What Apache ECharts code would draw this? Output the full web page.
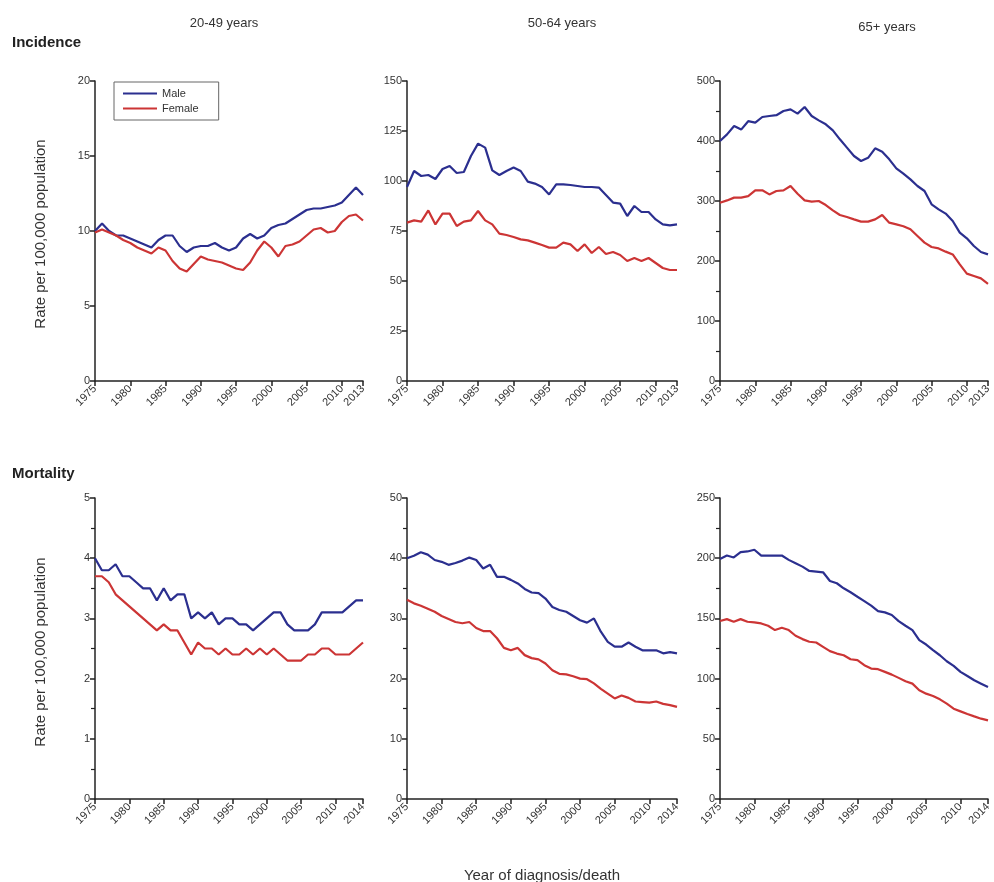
<!DOCTYPE html>
<html>
<head>
<meta charset="utf-8">
<script src="https://cdn.jsdelivr.net/npm/echarts@6/dist/echarts.min.js"></script>
<style>
html,body{margin:0;padding:0;background:#fff;}
#chart{width:994px;height:882px;}
</style>
</head>
<body>
<div id="chart"></div>
<script>
// ---------- data ----------
const yearsInc = [1975,1976,1977,1978,1979,1980,1981,1982,1983,1984,1985,1986,1987,1988,1989,1990,1991,1992,1993,1994,1995,1996,1997,1998,1999,2000,2001,2002,2003,2004,2005,2006,2007,2008,2009,2010,2011,2012,2013];
const yearsMort = [1975,1976,1977,1978,1979,1980,1981,1982,1983,1984,1985,1986,1987,1988,1989,1990,1991,1992,1993,1994,1995,1996,1997,1998,1999,2000,2001,2002,2003,2004,2005,2006,2007,2008,2009,2010,2011,2012,2013,2014];

const xTicksInc = [1975,1980,1985,1990,1995,2000,2005,2010,2013];
const xTicksMort = [1975,1980,1985,1990,1995,2000,2005,2010,2014];

// Incidence 20-49
const inc2049Male = [10.0,10.5,10.0,9.7,9.7,9.5,9.3,9.1,8.9,9.4,9.7,9.7,9.0,8.6,8.9,9.0,9.0,9.2,8.9,8.7,8.9,9.5,9.8,9.5,9.7,10.2,10.4,10.5,10.8,11.1,11.4,11.5,11.5,11.6,11.7,11.9,12.4,12.9,12.4];
const inc2049Female = [9.9,10.1,9.9,9.7,9.4,9.2,8.9,8.7,8.5,8.9,8.7,8.0,7.5,7.3,7.8,8.3,8.1,8.0,7.9,7.7,7.5,7.4,7.9,8.7,9.3,8.9,8.3,9.0,9.1,9.3,9.7,10.1,10.2,9.9,10.0,10.6,11.0,11.1,10.7];
// Incidence 50-64
const inc5064Male = [97,105,102.5,103,101,106,107.5,104,104.5,112.5,118.7,116.7,105.3,103,105,106.7,105,99.7,98.7,97,93.3,98.3,98.3,98,97.5,97,97,96.7,93,89.2,88.7,82.5,87.5,84.5,84.5,80.8,78.3,77.8,78.3];
const inc5064Female = [79.2,80.3,79.7,85.3,78.3,83.7,83.7,77.5,79.7,80.3,85,80.3,78.3,73.7,73,72,70.8,70.3,69.2,68,66.7,66.7,69.2,68.3,65,68.3,64,67,63.5,64.5,63,60,61.5,60,61.5,59,56.5,55.5,55.5];
// Incidence 65+
const inc65Male = [400,411,425,419,433,430.5,440,441.7,443,450,452.8,445.6,456.7,441.7,434.4,427.8,417.8,402.8,388.9,375,366.7,372,387.8,382.2,369.4,354.4,345.6,336,325,316.7,294.4,286,279,266.7,247.2,237.8,225,215,211];
const inc65Female = [297,301,305.6,305.6,308,317.8,317.8,311,316.7,317.8,325,312,301,298.9,300,293.3,284.4,276.7,273.3,269.4,265.6,265.6,269.4,276.7,263.9,261,258,252.8,241.7,230.6,223.3,221,215.6,211,194.4,178.9,175,171,162];
// Mortality 20-49
const mort2049Male = [4.0,3.8,3.8,3.9,3.7,3.7,3.6,3.5,3.5,3.3,3.5,3.3,3.4,3.4,3.0,3.1,3.0,3.1,2.9,3.0,3.0,2.9,2.9,2.8,2.9,3.0,3.1,3.1,2.9,2.8,2.8,2.8,2.9,3.1,3.1,3.1,3.1,3.2,3.3,3.3];
const mort2049Female = [3.7,3.7,3.6,3.4,3.3,3.2,3.1,3.0,2.9,2.8,2.9,2.8,2.8,2.6,2.4,2.6,2.5,2.5,2.4,2.5,2.4,2.4,2.5,2.4,2.5,2.4,2.5,2.4,2.3,2.3,2.3,2.4,2.4,2.5,2.5,2.4,2.4,2.4,2.5,2.6];
// Mortality 50-64
const mort5064Male = [40,40.4,41,40.6,39.7,39.4,38.9,39.2,39.6,40.1,39.7,38.3,38.9,36.9,36.9,36.4,35.8,34.9,34.3,34.2,33.3,31.9,31.4,31.1,30.4,29.7,29.3,30,27.8,26.1,25.3,25.3,26,25.3,24.7,24.7,24.7,24.2,24.4,24.2];
const mort5064Female = [33.1,32.5,32.1,31.6,31.1,30.4,29.9,29.4,29.2,29.4,28.4,27.9,27.9,26.7,25.1,24.7,25.1,23.9,23.4,23.2,22.5,21.4,20.8,20.7,20.4,20,19.9,19.2,18.3,17.5,16.7,17.2,16.8,16.2,16.1,16,16.2,15.8,15.6,15.3];
// Mortality 65+
const mort65Male = [199.4,202.2,200.6,205,205.6,207,202.2,202.2,202.2,202.2,198.6,195.8,193,189.4,188.9,188.3,181.1,179.2,175,171.7,168,164.4,160.6,156.1,155,152.8,147.8,143.9,140.3,132,128.3,123.6,119.4,114.4,110.6,105.6,102.2,98.6,95.8,93];
const mort65Female = [147.8,149.4,147.2,149.4,147.2,146.7,145.8,143.9,140.3,142.2,140.3,135.6,132.8,130.6,130,126.4,122.8,120.8,119.4,116.1,115.3,111.1,108.3,107.8,105.6,103.3,100.6,97.8,95.8,90.3,87.5,85.6,82.8,79.2,75,72.8,70.6,68.6,66.7,65.3];

const panelTitles = ['20-49 years','50-64 years','65+ years'];
const rowTitles = ['Incidence','Mortality'];
const yAxisTitle = 'Rate per 100,000 population';
const xAxisTitle = 'Year of diagnosis/death';

// ---------- chart ----------
const BLUE = '#2b2f8f';
const RED = '#cc3535';
const FONT = '"Liberation Sans", Arial, sans-serif';

const grids = [
  {left:95, top:81, width:268, height:300},
  {left:407, top:81, width:270, height:300},
  {left:720, top:81, width:268, height:300},
  {left:95, top:498, width:268, height:301},
  {left:407, top:498, width:270, height:301},
  {left:720, top:498, width:268, height:301}
];

function xAx(i, maxYear, ticks){
  return {
    type:'value', gridIndex:i, min:1975, max:maxYear,
    axisLine:{show:true, onZero:false, lineStyle:{color:'#222', width:1.5}},
    axisTick:{show:true, customValues:ticks, length:5, lineStyle:{color:'#222', width:1.5}},
    axisLabel:{customValues:ticks, rotate:45, fontSize:11, color:'#333', margin:6, fontFamily:FONT,
      formatter:function(v){return String(v);}},
    splitLine:{show:false}
  };
}
function yAx(i, max, interval, minor){
  return {
    type:'value', gridIndex:i, min:0, max:max, interval:interval,
    axisLine:{show:true, lineStyle:{color:'#222', width:1.5}},
    axisTick:{show:true, length:5, lineStyle:{color:'#222', width:1.5}},
    minorTick:{show:minor, splitNumber:2, length:4, lineStyle:{color:'#222', width:1.2}},
    axisLabel:{fontSize:11, color:'#333', margin:5, fontFamily:FONT},
    splitLine:{show:false}, minorSplitLine:{show:false}
  };
}
function pairs(xs, ys){ return xs.map(function(x,i){return [x, ys[i]];}); }
function ser(name, color, idx, xs, ys){
  return {name:name, type:'line', xAxisIndex:idx, yAxisIndex:idx, data:pairs(xs,ys),
    showSymbol:false, symbol:'none', lineStyle:{color:color, width:2.2}, itemStyle:{color:color},
    emphasis:{disabled:true}, animation:false};
}

const option = {
  animation:false,
  grid: grids,
  xAxis:[
    xAx(0,2013,xTicksInc), xAx(1,2013,xTicksInc), xAx(2,2013,xTicksInc),
    xAx(3,2014,xTicksMort), xAx(4,2014,xTicksMort), xAx(5,2014,xTicksMort)
  ],
  yAxis:[
    yAx(0,20,5,false), yAx(1,150,25,false), yAx(2,500,100,true),
    yAx(3,5,1,true), yAx(4,50,10,true), yAx(5,250,50,true)
  ],
  legend:{
    data:['Male','Female'], orient:'vertical', left:114, top:82,
    icon:'rect', itemWidth:34, itemHeight:2, itemGap:4,
    padding:[6,20,6,9], borderColor:'#666', borderWidth:1, backgroundColor:'#fff',
    textStyle:{fontSize:11, color:'#333', fontFamily:FONT}
  },
  series:[
    ser('Male',BLUE,0,yearsInc,inc2049Male), ser('Female',RED,0,yearsInc,inc2049Female),
    ser('Male',BLUE,1,yearsInc,inc5064Male), ser('Female',RED,1,yearsInc,inc5064Female),
    ser('Male',BLUE,2,yearsInc,inc65Male), ser('Female',RED,2,yearsInc,inc65Female),
    ser('Male',BLUE,3,yearsMort,mort2049Male), ser('Female',RED,3,yearsMort,mort2049Female),
    ser('Male',BLUE,4,yearsMort,mort5064Male), ser('Female',RED,4,yearsMort,mort5064Female),
    ser('Male',BLUE,5,yearsMort,mort65Male), ser('Female',RED,5,yearsMort,mort65Female)
  ],
  graphic:[
    {type:'text', x:224, y:23, style:{text:panelTitles[0], font:'13px '+FONT, fill:'#333', textAlign:'center', textVerticalAlign:'middle'}},
    {type:'text', x:562, y:23, style:{text:panelTitles[1], font:'13px '+FONT, fill:'#333', textAlign:'center', textVerticalAlign:'middle'}},
    {type:'text', x:887, y:27, style:{text:panelTitles[2], font:'13px '+FONT, fill:'#333', textAlign:'center', textVerticalAlign:'middle'}},
    {type:'text', x:12, y:43, style:{text:rowTitles[0], font:'bold 15px '+FONT, fill:'#222', textAlign:'left', textVerticalAlign:'middle'}},
    {type:'text', x:12, y:474, style:{text:rowTitles[1], font:'bold 15px '+FONT, fill:'#222', textAlign:'left', textVerticalAlign:'middle'}},
    {type:'text', x:41, y:234, rotation:Math.PI/2, style:{text:yAxisTitle, font:'15px '+FONT, fill:'#333', textAlign:'center', textVerticalAlign:'middle'}},
    {type:'text', x:41, y:652, rotation:Math.PI/2, style:{text:yAxisTitle, font:'15px '+FONT, fill:'#333', textAlign:'center', textVerticalAlign:'middle'}},
    {type:'text', x:542, y:876, style:{text:xAxisTitle, font:'15px '+FONT, fill:'#333', textAlign:'center', textVerticalAlign:'middle'}}
  ]
};

const chart = echarts.init(document.getElementById('chart'), null, {renderer:'canvas'});
chart.setOption(option);
</script>
</body>
</html>
